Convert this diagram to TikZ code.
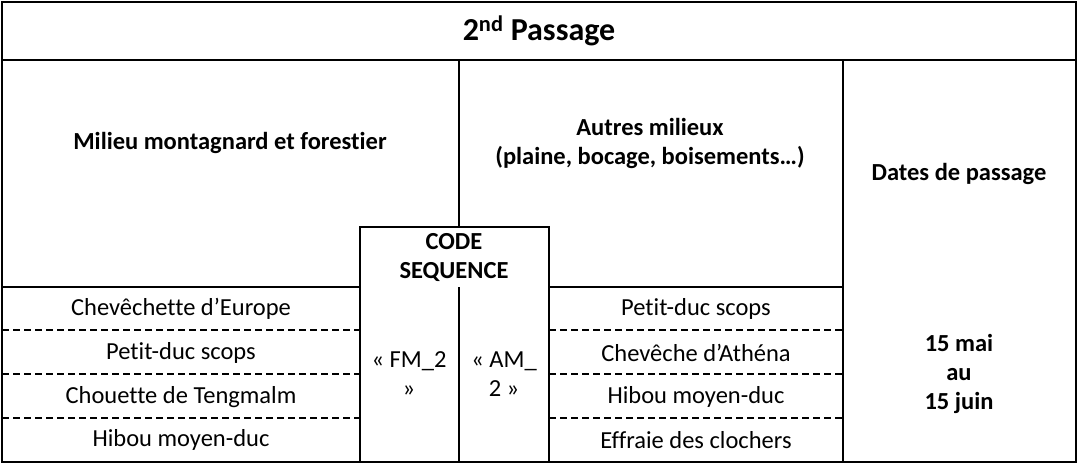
\documentclass[tikz,border=0pt]{standalone}
\usepackage{fontspec}
\setmainfont[Ligatures=NoCommon]{Carlito}
\begin{document}
\begin{tikzpicture}[x=1pt,y=-1pt,
  every path/.style={draw=black, line width=2pt},
  txt/.style={font={\fontsize{24.5}{29}\selectfont}, align=center, draw=none},
  head/.style={txt, font={\bfseries\fontsize{24.5}{29}\selectfont}},
  sep/.style={dash pattern=on 7pt off 4pt, line width=1.2pt}]
\path[draw=none] (0,0) rectangle (1079,472);
% frame
\draw (2,2) rectangle (1076,462);
\draw (2,60) -- (1076,60);
\draw (2,287) -- (360,287);
\draw (549,287) -- (843,287);
\draw (459,60) -- (459,227);
\draw (843,60) -- (843,462);
\draw (360,462) -- (360,227) -- (549,227) -- (549,462);
\draw (459,287) -- (459,462);
% dashed rows
\foreach \y in {330,374,418} {
  \draw[sep] (2,\y) -- (360,\y);
  \draw[sep] (549,\y) -- (843,\y);
}
% headers
\node[head, font={\bfseries\fontsize{32}{36}\selectfont}] (title) at (539,31) {2\textsuperscript{nd} Passage};
\node[head] (mont) at (230,143) {Milieu montagnard et forestier};
\node[head] (autres) at (650,143) {Autres milieux\\(plaine, bocage, boisements…)};
\node[head] (dates) at (959,174) {Dates de passage};
\node[head] (code) at (454,257) {CODE\\SEQUENCE};
% left species
\node[txt] (sp1) at (181,309) {Chevêchette d’Europe};
\node[txt] (sp2) at (181,353) {Petit-duc scops};
\node[txt] (sp3) at (181,397) {Chouette de Tengmalm};
\node[txt] (sp4) at (181,440) {Hibou moyen-duc};
% codes
\node[txt] (fm) at (409,374) {« FM\_2\\»};
\node[txt] (am) at (504,374) {« AM\_\\2 »};
% right species
\node[txt] (sp5) at (696,309) {Petit-duc scops};
\node[txt] (sp6) at (696,353) {Chevêche d’Athéna};
\node[txt] (sp7) at (696,397) {Hibou moyen-duc};
\node[txt] (sp8) at (696,440) {Effraie des clochers};
\node[head] (period) at (959,374) {15 mai\\au\\15 juin};
\end{tikzpicture}
\end{document}
